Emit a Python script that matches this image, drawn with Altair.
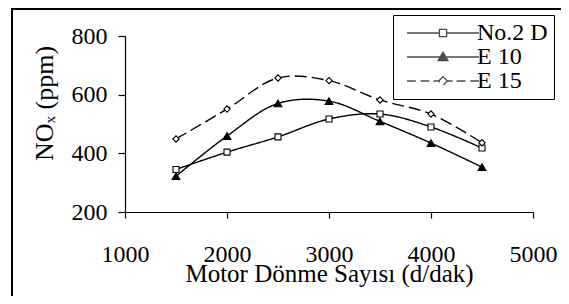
import altair as alt
import pandas as pd

rpm = [1500, 2000, 2500, 3000, 3500, 4000, 4500]
no2d = [345, 404, 456, 517, 534, 490, 418]
e10 = [322, 459, 570, 578, 509, 435, 353]
e15 = [449, 551, 657, 648, 582, 534, 436]
series_names = ["No.2 D", "E 10", "E 15"]
x_ticks = [1000, 2000, 3000, 4000, 5000]
y_ticks = [200, 400, 600, 800]

rows = []
for name, vals in zip(series_names, [no2d, e10, e15]):
    for r, v in zip(rpm, vals):
        rows.append({"rpm": r, "nox": v, "series": name})
df = pd.DataFrame(rows)

FONT = "Liberation Serif"

# legend symbols: line + marker drawn as custom paths
leg_square = "M-4.5,0H-0.45M0.45,0H4.5M-0.45,-0.45H0.45V0.45H-0.45Z"
leg_tri = ("M-4.5,0H4.5M0,-0.6L0.62,0.45H-0.62Z"
           "M0,-0.3L0.33,0.28H-0.33ZM0,-0.45V0.4")
leg_diam = ("M-4.5,0H-3.4M-2.8,0H-1.7M-1.2,0H-0.55M0.55,0H1.2M1.7,0H2.8M3.4,0H4.5"
            "M0,-0.55L0.55,0L0,0.55L-0.55,0Z")

x_enc = alt.X("rpm:Q", scale=alt.Scale(domain=[1000, 5000], nice=False, zero=False),
              axis=alt.Axis(values=x_ticks, title="Motor Dönme Sayısı (d/dak)",
                            format="d", tickSize=6, labelPadding=24, labelFlush=False,
                            titleFontSize=25, titleY=69, titleBaseline="alphabetic"))
y_enc = alt.Y("nox:Q", scale=alt.Scale(domain=[200, 800], nice=False, zero=False),
              axis=alt.Axis(values=y_ticks, title="NOₓ (ppm)", tickSize=7,
                            labelPadding=11, titleX=-81, titleY=67, titleFontSize=26,
                            titleAngle=270, titleBaseline="middle"))

frame = alt.Chart(pd.DataFrame({"a": [0]})).mark_rect(
    filled=False, stroke="black", strokeWidth=2
).encode(x=alt.value(-113), x2=alt.value(600), y=alt.value(-27), y2=alt.value(400))

lines = alt.Chart(df).mark_line(interpolate="catmull-rom", color="black", strokeWidth=1.4).encode(
    x=x_enc, y=y_enc, detail="series:N",
    strokeDash=alt.StrokeDash("series:N", scale=alt.Scale(domain=series_names,
                              range=[[1, 0], [1, 0], [12, 5]]), legend=None),
)

marker_styles = {
    "No.2 D": dict(shape="square", fill="white", size=36),
    "E 10": dict(shape="triangle-up", fill="black", size=60),
    "E 15": dict(shape="diamond", fill="white", size=40),
}
point_layers = []
for name in series_names:
    st = marker_styles[name]
    point_layers.append(
        alt.Chart(df).transform_filter(alt.datum.series == name).mark_point(
            filled=True, stroke="black", strokeWidth=1.1, opacity=1,
            shape=st["shape"], fill=st["fill"], size=st["size"]
        ).encode(x="rpm:Q", y="nox:Q")
    )

leg = alt.Legend(orient="none", legendX=268, legendY=-21, title=None,
                 strokeColor="black", fillColor="white", padding=6,
                 labelFont=FONT, labelFontSize=24, labelColor="black",
                 symbolSize=256, symbolOffset=32, labelOffset=22,
                 symbolStrokeWidth=1.3, rowPadding=0)

legend_layer = alt.Chart(df).mark_point(filled=False, color="black", size=0, strokeWidth=1.3).encode(
    x="rpm:Q", y="nox:Q",
    shape=alt.Shape("series:N", scale=alt.Scale(domain=series_names,
                    range=[leg_square, leg_tri, leg_diam]), legend=leg),
    fill=alt.Fill("series:N", scale=alt.Scale(domain=series_names,
                  range=["white", "black", "white"]), legend=leg),
)

chart = alt.layer(legend_layer, frame, lines, *point_layers).properties(
    width=408, height=176,
    autosize=alt.AutoSizeParams(type="none"),
    padding={"left": 117, "top": 28, "right": 28, "bottom": 84},
).configure_view(stroke=None).configure_axis(
    grid=False, domainColor="black", tickColor="black", domainWidth=1.2, tickWidth=1.2,
    labelFont=FONT, labelFontSize=24, labelColor="black",
    titleFont=FONT, titleFontSize=24, titleColor="black", titleFontWeight="normal",
)

chart.save("out.html", embed_options={"renderer": "svg", "actions": False})
